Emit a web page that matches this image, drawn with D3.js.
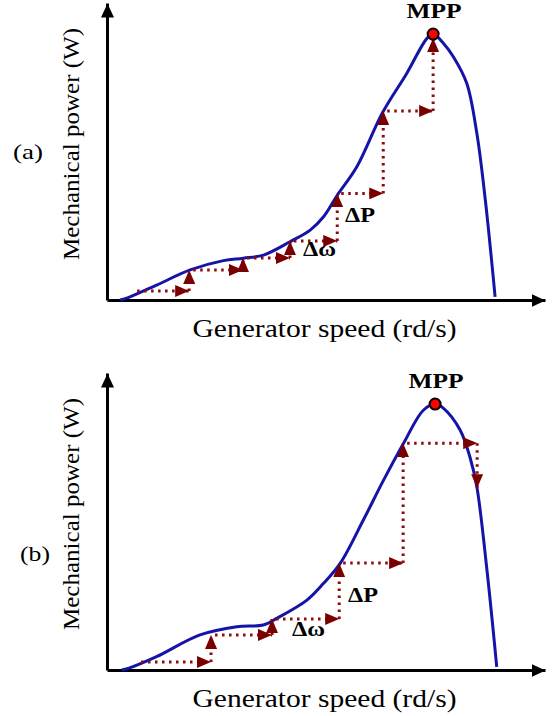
<!DOCTYPE html>
<html>
<head>
<meta charset="utf-8">
<script src="https://cdn.jsdelivr.net/npm/d3@7"></script>
<style>
  html, body { margin: 0; padding: 0; background: #fff; }
</style>
</head>
<body>
<svg id="chart" width="553" height="716"></svg>
<script>
// power curve (a): generator speed vs mechanical power (normalised, MPP = 1)
const curveSpeedA = [0.04, 0.065, 0.152, 0.255, 0.357, 0.418, 0.48, 0.561, 0.623, 0.664, 0.705, 0.766, 0.845, 0.919, 0.981, 1.0, 1.032, 1.062, 1.103, 1.134, 1.16, 1.19];
const curvePowerA = [0.0, 0.009, 0.056, 0.113, 0.148, 0.157, 0.169, 0.219, 0.263, 0.313, 0.392, 0.501, 0.705, 0.852, 0.984, 1.0, 0.965, 0.915, 0.815, 0.627, 0.376, 0.012];
// P&O steps (a)
const stepSpeedA = [0.08, 0.252, 0.417, 0.561, 0.706, 0.847, 1.0];
const stepPowerA = [0.034, 0.113, 0.158, 0.222, 0.401, 0.711, 0.985];

// power curve (b)
const curveSpeedB = [0.045, 0.065, 0.152, 0.285, 0.398, 0.479, 0.52, 0.613, 0.664, 0.715, 0.786, 0.848, 0.909, 0.97, 1.006, 1.032, 1.083, 1.113, 1.134, 1.165, 1.195];
const curvePowerB = [0.0, 0.006, 0.05, 0.132, 0.163, 0.169, 0.194, 0.263, 0.326, 0.401, 0.564, 0.714, 0.852, 0.977, 1.0, 0.984, 0.902, 0.8, 0.689, 0.376, 0.012];
// P&O steps (b), last step overshoots the MPP
const stepSpeedB = [0.092, 0.319, 0.506, 0.712, 0.908, 1.135];
const stepPowerB = [0.030, 0.132, 0.192, 0.402, 0.853, 0.684];

const mppSpeed = [1.0, 1.006];
const mppPower = [1.0, 1.0];

const serif = "'Liberation Serif', 'Times New Roman', Times, serif";

const svg = d3.select("#chart");

const defs = svg.append("defs");
function marker(id, color, len, wid) {
  defs.append("marker")
    .attr("id", id)
    .attr("markerUnits", "userSpaceOnUse")
    .attr("markerWidth", len)
    .attr("markerHeight", wid)
    .attr("refX", len)
    .attr("refY", wid / 2)
    .attr("orient", "auto")
    .append("path")
    .attr("d", `M0,0L${len},${wid / 2}L0,${wid}Z`)
    .attr("fill", color);
}
marker("axArrow", "#000", 14, 13);
marker("stepArrow", "#7a0000", 14, 12);

const x = d3.scaleLinear().domain([0, 1.343]).range([107, 545]);

const panels = [
  { base: 300, tag: "(a)", tagX: 13, tagY: 159, speed: curveSpeedA, power: curvePowerA, sw: stepSpeedA, sp: stepPowerA,
    dP: [345, 222], dW: [303, 256], mpp: 0 },
  { base: 670, tag: "(b)", tagX: 20, tagY: 561, speed: curveSpeedB, power: curvePowerB, sw: stepSpeedB, sp: stepPowerB,
    dP: [348, 602], dW: [292, 636], mpp: 1 }
];

function label(g, txt, size, len, bold) {
  return g.append("text")
    .attr("font-family", serif)
    .attr("font-size", size)
    .attr("font-weight", bold ? "bold" : "normal")
    .attr("textLength", len)
    .attr("lengthAdjust", "spacingAndGlyphs")
    .text(txt);
}

panels.forEach(p => {
  const y = d3.scaleLinear().domain([0, 1.117]).range([p.base, p.base - 297]);
  const g = svg.append("g");

  // axes (no ticks), arrow at the end
  g.append("g")
    .attr("transform", `translate(0,${p.base})`)
    .call(d3.axisBottom(x).ticks(0).tickSizeOuter(0))
    .call(a => a.select(".domain").attr("stroke-width", 3).attr("marker-end", "url(#axArrow)"));
  g.append("g")
    .attr("transform", `translate(${x(0)},0)`)
    .call(d3.axisLeft(y).ticks(0).tickSizeOuter(0))
    .call(a => a.select(".domain").attr("stroke-width", 3).attr("marker-end", "url(#axArrow)"));

  // power curve
  const pts = p.speed.map((s, i) => [s, p.power[i]]);
  const line = d3.line()
    .x(d => x(d[0]))
    .y(d => y(d[1]))
    .curve(d3.curveCatmullRom.alpha(0.5));
  g.append("path")
    .datum(pts)
    .attr("fill", "none")
    .attr("stroke", "#1414a8")
    .attr("stroke-width", 3)
    .attr("d", line);

  // dotted step arrows (delta omega then delta P)
  const segs = [];
  for (let i = 0; i < p.sw.length - 1; i++) {
    segs.push([[x(p.sw[i]) + 4, y(p.sp[i])], [x(p.sw[i + 1]), y(p.sp[i])]]);
    segs.push([[x(p.sw[i + 1]), y(p.sp[i])], [x(p.sw[i + 1]), y(p.sp[i + 1])]]);
  }
  g.selectAll(".step")
    .data(segs)
    .enter()
    .append("path")
    .attr("class", "step")
    .attr("d", d => `M${d[0][0]},${d[0][1]}L${d[1][0]},${d[1][1]}`)
    .attr("fill", "none")
    .attr("stroke", "#8b0a0a")
    .attr("stroke-width", 3)
    .attr("stroke-dasharray", "2.5,4.5")
    .attr("marker-end", "url(#stepArrow)");

  // MPP
  const mx = x(mppSpeed[p.mpp]), my = y(mppPower[p.mpp]);
  g.append("circle")
    .attr("cx", mx).attr("cy", my).attr("r", 5.5)
    .attr("fill", "#ff0000").attr("stroke", "#000").attr("stroke-width", 2);
  label(g, "MPP", 21, 55, true)
    .attr("x", mx + 1).attr("y", my - 16)
    .attr("text-anchor", "middle");

  label(g, "ΔP", 20, 30, true).attr("x", p.dP[0]).attr("y", p.dP[1]);
  label(g, "Δω", 20, 33, true).attr("x", p.dW[0]).attr("y", p.dW[1]);

  // axis titles
  label(g, "Generator speed (rd/s)", 25, 264, false)
    .attr("x", 324.5).attr("y", p.base + 37)
    .attr("text-anchor", "middle");
  label(g, "Mechanical power (W)", 24, 232, false)
    .attr("transform", `translate(79,${p.base - 156}) rotate(-90)`)
    .attr("text-anchor", "middle");

  label(g, p.tag, 22, 30, false).attr("x", p.tagX).attr("y", p.tagY);
});
</script>
</body>
</html>
